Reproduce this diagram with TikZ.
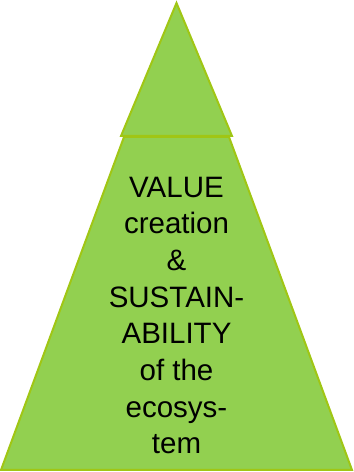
\documentclass[tikz,border=0pt]{standalone}
\usepackage{fontspec}
\setmainfont{Liberation Sans}
\definecolor{fillgreen}{RGB}{146,208,80}
\definecolor{edgegreen}{RGB}{160,198,20}
\tikzset{
  layer/.style={fill=fillgreen, draw=edgegreen, line width=2bp, line join=miter},
  label/.style={align=center, font=\fontsize{29.5bp}{36.7bp}\selectfont, inner sep=0pt}
}
\begin{document}
\begin{tikzpicture}[x=1bp,y=1bp]
\useasboundingbox (0,0) rectangle (353,472);
\coordinate (bl) at (1,2);
\coordinate (br) at (352,2);
\coordinate (tr) at (229,335);
\coordinate (tl) at (124,335);
\coordinate (apex) at (176.5,469);
\coordinate (ul) at (121,336);
\coordinate (ur) at (232,336);
\draw[layer] (bl) -- (br) -- (tr) -- (tl) -- cycle;
\draw[layer] (ul) -- (ur) -- (apex) -- cycle;
\node[label, anchor=base] (txt) at (176.5,18) {VALUE\\creation\\\&\\SUSTAIN-\\ABILITY\\of the\\ecosys-\\tem};
\end{tikzpicture}
\end{document}
